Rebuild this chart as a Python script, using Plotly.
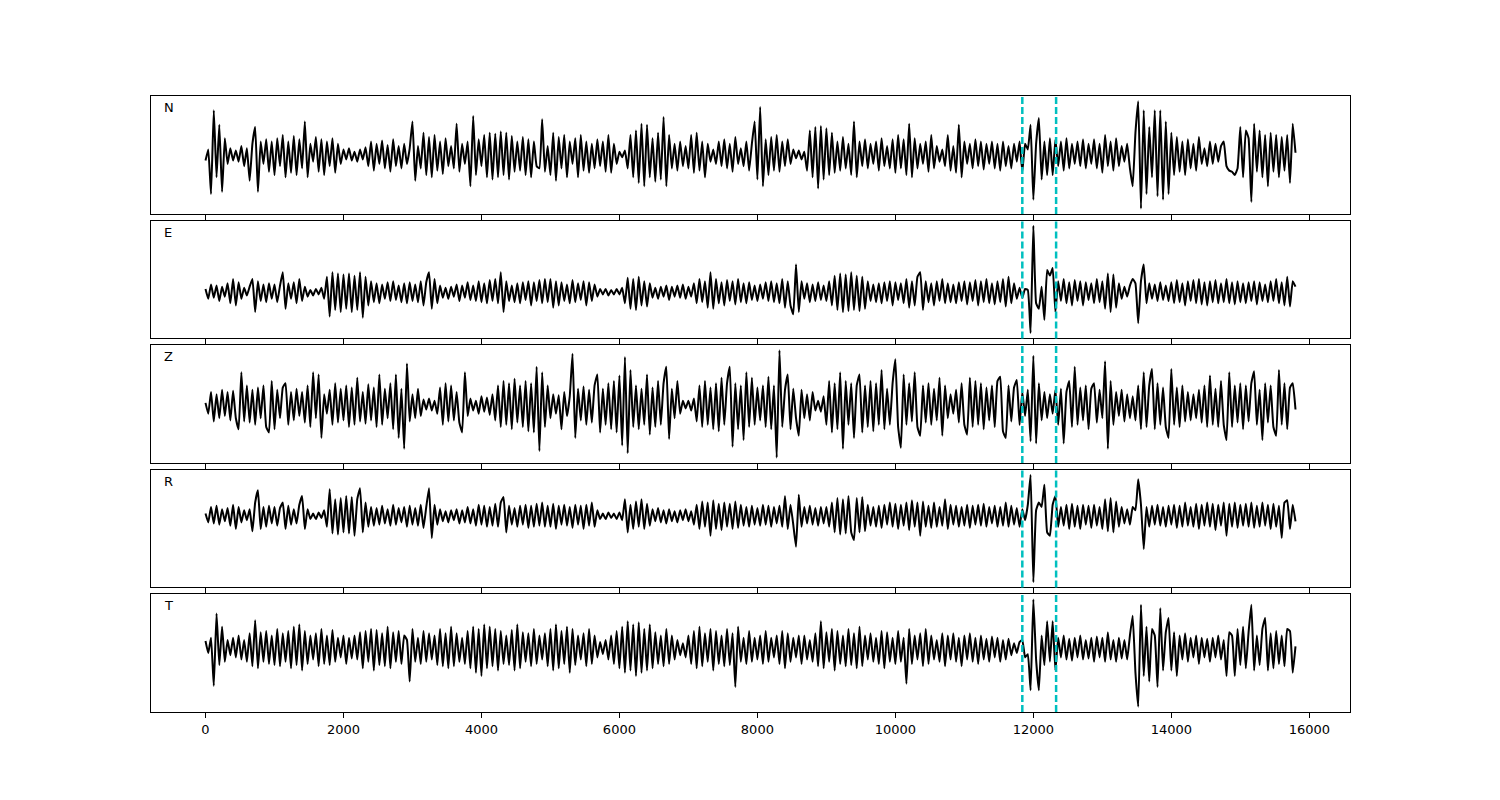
import plotly.graph_objects as go
from plotly.subplots import make_subplots

STEP = 40

labels = ["N", "E", "Z", "R", "T"]
pick_times = [11840, 12330]
tick_vals = [0, 2000, 4000, 6000, 8000, 10000, 12000, 14000, 16000]
tick_text = ["0", "2000", "4000", "6000", "8000", "10000", "12000", "14000", "16000"]

trace_N = [
    -5, 5, -35, 40, -20, 27, -33, 15, -8, 6, -5, 4, -6, 8, -10, 6, -23, 10, 25, -33, 12, -8, 14, -15, 12,
    -18, 15, -10, 18, -20, 12, -16, 17, -18, 14, -12, 30, -20, 10, -6, 16, -15, 14, -18, 12, -10, 15, -16, 10, -8,
    5, -4, 6, -5, 3, -6, 5, -4, 7, -10, 12, -14, 10, -8, 13, -12, 9, -15, 14, -10, 8, -12, 10, -8, 6,
    30, -23, 8, -12, 20, -18, 16, -20, 18, -14, 12, -17, 15, -10, 8, -12, 28, -15, 10, -8, 12, -28, 35, -18, 14,
    -10, 18, -20, 20, -22, 19, -20, 21, -18, 20, -22, 17, -15, 12, -14, 16, -18, 14, -20, 12, -10, -12, 32, -15, 8,
    -18, 20, -23, 16, -12, 18, -20, 12, -8, 15, -20, 18, -14, 12, -16, 10, -12, 14, -10, 12, -15, 18, -16, 10, -8,
    3, -2, 4, -12, 18, -20, 22, -25, 28, -28, 27, -20, 15, -24, 20, -22, 34, -28, 18, -12, 10, -14, 12, -10, 8,
    -12, 18, -16, 20, -14, 12, -20, 10, -6, 5, -8, 12, -10, 14, -12, 10, -15, 16, -8, 6, -10, 12, -14, 10, 30,
    -22, 43, -28, 14, -18, 16, -14, 18, -15, 12, -10, 14, -8, 5, -3, 4, -4, 3, -14, 22, -20, 25, -30, 26, -22,
    24, -18, 20, -16, 12, -14, 16, -12, 10, -18, 30, -20, 12, -10, 14, -12, 10, -8, 12, -14, 15, -10, 8, -12, 14,
    -16, 18, -12, 14, -18, 28, -20, 15, -12, 10, -8, 12, -15, 18, -12, 8, -6, 5, -10, 18, -14, 8, -16, 27, -20,
    12, -8, 10, -12, 14, -10, 12, -13, 10, -8, 12, -12, 10, -14, 12, -10, 8, -12, 10, -6, 12, -15, 10, 5, 27,
    -40, 10, 33, -22, 12, -18, 15, -18, 14, -10, 12, -14, 15, -12, 10, -8, 12, -10, 14, -12, 10, -8, 14, -12, 10,
    -16, 18, -10, 12, -14, 15, -10, 8, -6, 10, -12, -28, 20, 48, -48, 40, -35, 25, -20, 40, -37, 40, -40, 30, -35,
    20, -18, 16, -15, 12, -18, 14, -12, 10, -14, 16, -8, 6, -10, 12, -8, 10, -6, 8, 12, -10, -14, -15, -18, -12,
    25, -20, 22, 15, -42, 28, -15, 22, -20, 18, -28, 20, -15, 18, -20, 16, -14, 18, -25, 28, 2,
]

trace_E = [
    3, -6, 7, -5, 6, -8, 5, -4, 8, -10, 12, -12, 9, -6, 4, -3, 5, 12, -18, 10, -8, 7, -9, 8, -6,
    7, -9, 6, 18, -15, 8, -6, 9, -10, 12, -8, 5, -4, 2, -3, 3, -2, 4, -6, 14, -22, 18, -16, 17, -18,
    16, -15, 17, -18, 15, -16, 18, -23, 14, -12, 10, -9, 8, -10, 7, -6, 9, -8, 10, -7, 6, -9, 8, -10, 9,
    -8, 7, -9, 10, -12, 9, 18, -15, 12, -10, 6, -5, 4, -6, 5, -4, 7, -8, 6, -5, 9, -7, 6, -8, 10,
    -9, 8, -10, 11, -8, 12, -10, 18, -18, 10, -8, 6, -9, 8, -10, 9, -7, 10, -12, 9, -8, 11, -10, 12, -9,
    12, -14, 10, -12, 9, -8, 7, -10, 11, -9, 8, -7, 10, -12, 9, -8, 7, -4, 3, -2, 3, -3, 2, -2, 3,
    -2, 4, -10, 13, -15, 12, -16, 14, -12, 10, -13, 8, -5, 4, -6, 5, -4, 6, -7, 5, -4, 6, -5, 7, -6,
    5, -4, 8, -10, 12, -9, 10, -14, 18, -15, 12, -10, 9, -12, 11, -8, 10, -11, 12, -9, 8, -10, 9, -7, 6,
    -8, 7, -6, 9, -8, 10, -9, 8, -10, 12, -14, 10, -12, -20, 25, -18, 10, -6, 8, -9, 7, -8, 9, -7, 6,
    -8, 10, -12, 15, -16, 17, -18, 16, -17, 18, -16, 15, -17, 14, -15, 10, -8, 7, -9, 8, -10, 9, -8, 10, -12,
    9, -7, 8, -10, 12, -14, 10, -12, 14, 18, -16, 10, -9, 8, -12, 10, -8, 12, -10, 8, -9, 7, -10, 9, -8,
    10, -11, 9, -8, 11, -12, 10, -9, 12, -10, 8, -11, 10, -9, 12, -13, 14, -10, 8, -6, 4, -5, 3, 2, -37,
    60, -10, -15, 5, -25, 20, 15, 22, -18, 10, -8, 12, -10, 9, -12, 11, -8, 10, -12, 9, -7, 8, -10, 12, -9,
    10, -15, 17, -18, 16, -14, 8, -6, 5, -4, 6, 12, 8, -28, 10, 25, -10, 8, -6, 7, -8, 9, -7, 6, -8,
    9, -10, 11, -9, 8, -12, 10, -8, 11, -10, 12, -11, 9, -12, 10, -9, 11, -10, 8, -9, 12, -10, 9, -11, 10,
    -9, 8, -10, 9, -8, 10, -11, 9, -8, 7, -9, 10, -8, 12, -10, 9, -12, 14, -13, 10, 5,
]

trace_Z = [
    2, -8, 12, -15, 10, -12, 14, -10, 12, -14, 13, -12, -22, 30, -15, 18, -16, 14, -18, 16, -12, 18, -20, -25, 22,
    -22, 14, -12, 16, 20, -18, 12, -14, 15, -10, 12, -16, 18, -20, 30, -12, 28, -30, 10, -8, 14, -18, 20, -16, 15,
    -14, 18, -20, 16, -18, 25, -15, 12, -17, 19, -14, 16, -20, 28, -18, 15, -12, 20, -22, 28, -30, 15, -40, 38, -15,
    10, -12, 15, -10, 5, -4, 6, -5, 4, -8, 16, -18, 20, -15, 18, -14, 12, -16, -25, 30, -10, 6, -5, 4, -8,
    8, -6, 7, -9, 10, -14, 18, -20, 22, -18, 20, -22, 24, -16, 18, -20, 22, -24, 20, -25, 35, -42, 30, -20, 18,
    -12, 10, -8, 9, -22, 12, -10, 8, 47, -30, 15, -14, 17, -18, 14, -16, 18, 28, -25, 15, -18, 20, -22, 22, -25,
    27, -37, 44, -44, 32, -20, 18, -22, 15, -18, 28, -27, 16, -20, 22, -18, 20, 35, -31, 15, -12, 22, -8, 4, -3,
    4, -5, 6, -15, 18, -20, 22, -18, 16, -22, 20, -24, 25, -18, 20, 35, -38, 20, -22, 18, -32, 30, -20, 25, -18,
    16, -14, 18, -20, 26, -22, 18, -48, 50, -20, 14, 28, -22, 15, -12, -28, 14, -12, 10, -14, 12, -5, 4, -6, 8,
    -18, 22, -25, 20, -22, 30, -40, 22, -18, 20, -30, 18, 28, -25, 18, -20, 22, -24, 20, -18, 32, -22, 15, -18, 20,
    42, -20, -39, 28, -18, 20, -15, 30, -20, -28, 18, -16, 20, -18, 15, -14, 25, -28, 18, -12, 10, -8, 14, -16, 20,
    -18, -27, 25, -20, 22, -18, 20, -22, 16, -14, 18, -20, 22, 26, -24, -30, 18, -15, 16, 23, -18, 12, -10, 14, -33,
    45, -35, 20, -14, 12, -12, 10, -8, 14, -18, 15, -35, 12, 22, -20, 35, -18, 16, -14, 18, -22, 15, 20, -16, 14,
    -12, 40, -40, 22, -18, 12, -10, 14, -15, 10, -12, 8, -14, 18, -22, 30, -20, 18, 33, -22, 20, -18, 16, -20, -30,
    33, -18, 16, -20, 18, -15, 12, -14, 10, -12, 14, -16, 18, -20, 27, -18, 15, -20, 22, -18, -32, 30, -20, 18, -16,
    20, -22, 18, -15, 20, 31, -18, 14, -32, 20, -16, 18, -20, -28, 32, -18, 20, -22, 16, 20, -4,
]

trace_R = [
    2, -6, 8, -7, 9, -8, 6, -5, 7, -9, 10, -12, 8, -6, 5, -4, 6, -14, 12, 23, -12, 8, -10, 9, -7,
    8, -9, 7, 12, -12, 9, -8, 6, -7, 10, 18, -12, 6, -3, 2, -3, 3, -2, 5, -10, 24, -16, 15, -17, 16,
    -15, 18, -16, 17, -18, 15, 25, -15, 12, -10, 8, -9, 7, -8, 9, -7, 6, -9, 10, -8, 7, -6, 8, -10, 9,
    -8, 7, -9, 10, -11, 8, 25, -20, 10, -8, 6, -5, 4, -6, 5, -4, 6, -7, 5, -6, 8, -7, 6, -9, 10,
    -8, 9, -10, 8, -9, 11, -10, 12, 17, -15, 9, -8, 7, -10, 9, -8, 10, -11, 9, -10, 11, -9, 12, -10, 9,
    -10, 11, -12, 9, -8, 10, -9, 8, -11, 10, -8, 9, -12, 10, -9, 12, -10, 5, -3, 2, -3, 3, -2, 2, -3,
    3, -4, 15, -15, 10, -12, 13, -10, 15, -12, 11, -9, 6, -5, 7, -6, 5, -7, 6, -5, 4, -6, 5, -4, 6,
    -5, 4, -8, 10, -12, 13, -10, 12, -18, 14, -12, 11, -13, 12, -10, 11, -12, 13, -11, 10, -9, 8, -10, 9, -8,
    7, -9, 10, -8, 9, -10, 8, -7, 9, -10, 18, -12, 10, -8, -28, 19, -10, 8, -7, 9, -8, 7, -9, 8, -7,
    8, -10, 12, -15, 16, -17, 15, -16, 18, -15, -22, 16, -15, 17, -14, 10, -9, 8, -10, 9, -11, 10, -8, 12, -10,
    11, -12, 10, -9, 12, -13, 14, -10, 12, -18, 13, -10, 9, -11, 12, -10, 8, -9, 15, -12, 10, -8, 9, -10, 8,
    -9, 10, -11, 9, -8, 10, -9, 11, -10, 8, -7, 9, -10, 8, -9, 12, -10, 9, -8, 7, -10, 6, -4, 10, 37,
    -60, 5, 12, 8, 28, -15, -18, 10, 18, -10, 8, -9, 10, -12, 11, -10, 9, -12, 10, -8, 9, -11, 10, -9, 8,
    -12, 15, -14, 16, -15, 13, -10, 8, -7, 6, -8, 8, 5, 33, 10, -30, 8, -10, 9, -8, 10, -9, 8, -10, 9,
    -8, 10, -11, 9, -10, 12, -9, 8, -10, 11, -12, 10, -9, 12, -10, 11, -13, 10, -9, 12, -18, 11, -10, 12, -11,
    10, -9, 11, -10, 12, -11, 9, -10, 12, -9, 10, -12, 11, -10, 9, -20, 12, 14, -12, 10, -5,
]

trace_T = [
    7, -4, 10, -34, 32, -15, 20, -12, 8, -6, 10, -8, 12, -10, 8, -12, 14, -16, 26, -18, 15, -12, 16, -14, 12,
    -15, 18, -16, 14, -12, 16, -18, 20, -15, 22, -20, 16, -14, 12, -10, 14, -16, 18, -14, 12, -15, 17, -12, 10, -8,
    12, -14, 10, -9, 12, -10, 15, -18, 16, -12, 18, -20, 17, -15, 14, -16, 20, -18, 15, -12, 16, -14, 12, 8, -30,
    18, -12, 10, -14, 16, -12, 14, -10, 12, -15, 18, -16, 14, -18, 20, -16, 14, -12, 10, -14, 16, -18, 20, -22, 18,
    -25, 22, -18, 20, -16, 18, -20, 16, -14, 12, -15, 17, -20, 22, -18, 15, -12, 14, -16, 18, -14, 12, -10, 14, -16,
    18, -20, 22, -18, 16, -14, 20, -22, 18, -15, 12, -10, 14, -16, 18, -14, 12, -8, 6, -5, 8, -10, 12, -14, 16,
    -18, 20, -22, 25, -20, 22, -25, 24, -22, 18, -20, 22, -18, 15, -14, 12, -16, 18, -14, 12, -10, 8, -6, 5, -8,
    12, -14, 16, -18, 20, -16, 14, -12, 18, -20, 16, -14, 12, -16, 18, -15, 14, -35, 20, -12, 10, -14, 16, -12, 10,
    -10, 12, -14, 16, -12, 10, -8, 12, -14, 16, -18, 14, -12, 10, -8, 12, -14, 12, -10, 8, -12, 14, -16, 25, -18,
    15, -12, 18, -20, 16, -14, 12, -16, 18, -15, 14, -18, 20, -16, 12, -10, 14, -12, 10, -14, 16, -18, 15, -12, 10,
    -14, 16, -12, 10, -32, 18, -14, 12, -10, 14, -16, 18, -14, 12, -10, 8, -12, 14, -16, 12, -10, 14, -12, 10, -16,
    12, -10, 14, -12, 10, -14, 12, -10, 9, -12, 11, -8, 10, -12, 8, -10, 9, -6, 5, -4, 6, 8, -8, -5, -38,
    45, -10, -38, 12, -15, 25, -12, 25, -20, 10, -8, 12, -10, 9, -11, 10, -8, 12, -10, 8, -9, 10, -12, 11, -8,
    10, -12, 15, -10, 8, -12, 10, -9, 8, -10, 12, 30, -22, -53, 40, -25, 20, -30, 18, 12, -35, 37, -20, 15, 28,
    -20, 15, -25, 12, -10, 14, -12, 10, -8, 12, -14, 10, -8, 9, -12, 10, -8, 12, -10, 8, -25, 15, 12, -25, 18,
    -15, 20, -18, 15, 40, -20, 12, -15, 18, 28, -20, 14, -18, 16, -14, 12, -16, 18, 16, -22, 2,
]

series = [trace_N, trace_E, trace_Z, trace_R, trace_T]

fig = make_subplots(rows=5, cols=1, shared_xaxes=True, vertical_spacing=0.0106)

for i, (name, vals) in enumerate(zip(labels, series), start=1):
    t = [k * STEP for k in range(len(vals))]
    fig.add_trace(
        go.Scatter(x=t, y=vals, mode="lines", name=name,
                   line=dict(color="black", width=2, shape="spline", smoothing=0.35),
                   showlegend=False, hoverinfo="skip"),
        row=i, col=1,
    )
    lo, hi = min(vals), max(vals)
    pad = 0.05 * (hi - lo)
    fig.update_yaxes(range=[lo - pad, hi + pad], row=i, col=1)
    for p in pick_times:
        fig.add_vline(x=p, row=i, col=1,
                      line=dict(color="#00BFBF", width=2.5, dash="7px,3px"))
    yref = "y domain" if i == 1 else f"y{i} domain"
    xref = "x domain" if i == 1 else f"x{i} domain"
    fig.add_annotation(text=name, xref=xref, yref=yref, x=0.009, y=0.9,
                       xanchor="left", yanchor="middle", showarrow=False,
                       font=dict(family="DejaVu Sans", size=13, color="black"))

fig.update_xaxes(range=[-790, 16590], tickvals=tick_vals, ticktext=tick_text,
                 ticks="outside", ticklen=5, tickwidth=1, tickcolor="black",
                 showline=True, mirror=True, linecolor="black", linewidth=1,
                 showgrid=False, zeroline=False)
fig.update_xaxes(showticklabels=True, row=5, col=1)
fig.update_yaxes(showticklabels=False, ticks="", showline=True, mirror=True,
                 linecolor="black", linewidth=1, showgrid=False, zeroline=False)

fig.update_layout(
    width=1500, height=800,
    margin=dict(l=143, r=158, t=88, b=96),
    paper_bgcolor="white", plot_bgcolor="white",
    font=dict(family="DejaVu Sans", size=13, color="black"),
)

fig.write_html("out.html")
